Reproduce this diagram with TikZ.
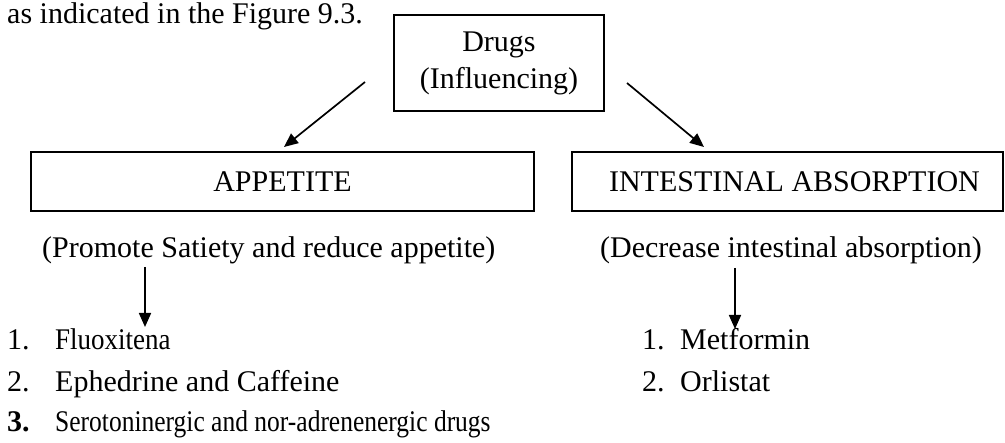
\documentclass[tikz,border=0pt]{standalone}
\usepackage{fontspec}
\setmainfont{Liberation Serif}
\newfontfamily\narrowA[FakeStretch=0.9]{Liberation Serif}
\newfontfamily\narrowB[FakeStretch=0.85]{Liberation Serif}
\usetikzlibrary{arrows.meta}
\begin{document}
\begin{tikzpicture}[x=1pt,y=-1pt,
  font=\fontsize{30}{37}\selectfont,
  box/.style={draw, line width=2.2pt, inner sep=0pt},
  arr/.style={line width=1.7pt, -{Triangle[length=14pt,width=12pt]}},
  txt/.style={inner sep=0pt, anchor=base west}]
\useasboundingbox (0,0) rectangle (1005,443);
% running text at the top
\node[txt] (intro) at (7,24) {as indicated in the Figure 9.3.};
% boxes
\node[box, minimum width=210pt, minimum height=96pt, align=center] (drugs) at (499,63) {Drugs\\(Influencing)};
\node[box, minimum width=503pt, minimum height=59pt] (app) at (282.5,181.5) {APPETITE\hspace{38pt}};
\node[box, minimum width=431pt, minimum height=59pt] (int) at (787.5,181.5) {\hspace{14pt}INTESTINAL ABSORPTION};
% subtitles
\node[txt] (appsub) at (42,258) {(Promote Satiety and reduce appetite)};
\node[txt] (intsub) at (600,258) {(Decrease intestinal absorption)};
% diagonal arrows
\coordinate (d1s) at (365,82);
\coordinate (d1e) at (284,147);
\coordinate (d2s) at (627,83);
\coordinate (d2e) at (704,147);
\draw[arr] (d1s) -- (d1e);
\draw[arr] (d2s) -- (d2e);
% vertical arrows
\coordinate (v1s) at (145,267);
\coordinate (v1e) at (145,327);
\coordinate (v2s) at (735,268);
\coordinate (v2e) at (735,329);
\draw[arr] (v1s) -- (v1e);
\draw[arr] (v2s) -- (v2e);
% left list
\node[txt] (l1n) at (7,350) {1.};
\node[txt] (l1) at (55,350) {\narrowA Fluoxitena};
\node[txt] (l2n) at (7,392) {2.};
\node[txt] (l2) at (55,392) {Ephedrine and Caffeine};
\node[txt] (l3n) at (7,432) {\textbf{3.}};
\node[txt] (l3) at (55,432) {\narrowB Serotoninergic and nor-adrenenergic drugs};
% right list
\node[txt] (r1n) at (642,350) {1.};
\node[txt] (r1) at (680,350) {Metformin};
\node[txt] (r2n) at (642,392) {2.};
\node[txt] (r2) at (680,392) {Orlistat};
\end{tikzpicture}
\end{document}
